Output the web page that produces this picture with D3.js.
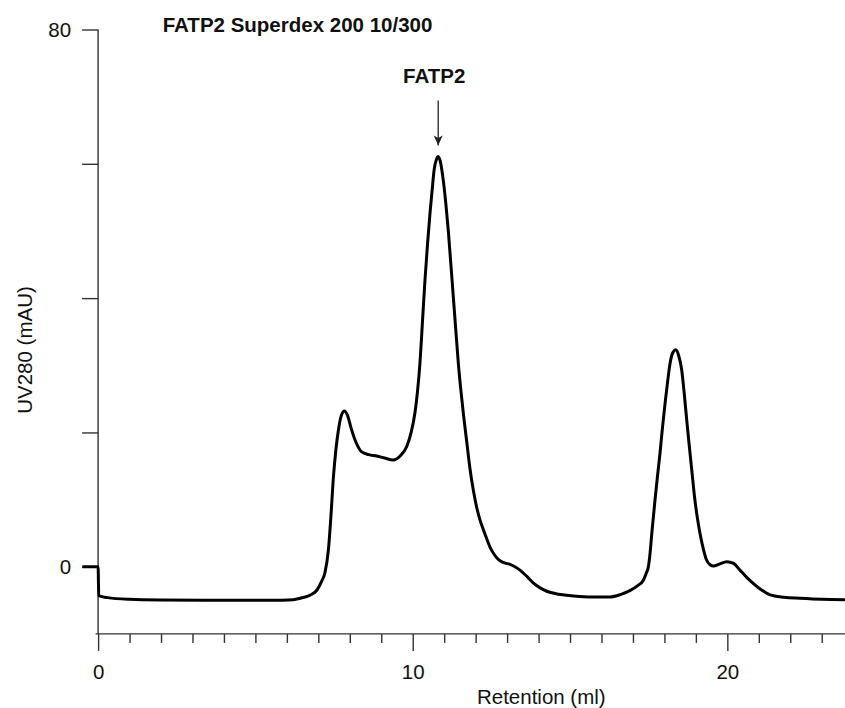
<!DOCTYPE html>
<html>
<head>
<meta charset="utf-8">
<script src="https://cdn.jsdelivr.net/npm/d3@7"></script>
<style>
  html, body { margin: 0; padding: 0; background: #fff; }
  svg { display: block; font-family: "Liberation Sans", Arial, sans-serif; }
</style>
</head>
<body>
<svg id="chart" width="845" height="708"></svg>
<script>
// ---- data ----
const retention = [
  -0.5, 0, 0.02, 0.3, 1, 2, 4, 5.5, 6.2, 6.5, 6.75, 6.95, 7.1, 7.21, 7.32, 7.4, 7.48, 7.56, 7.64, 7.73,
  7.83, 7.93, 8.05, 8.2, 8.38, 8.6, 8.86, 9.1, 9.38, 9.6, 9.81, 9.95, 10.07, 10.15, 10.23, 10.31, 10.39,
  10.47, 10.55, 10.62, 10.68, 10.75, 10.81, 10.88, 10.97, 11.05, 11.13, 11.21, 11.29, 11.37, 11.45, 11.53,
  11.61, 11.72, 11.82, 11.93, 12.03, 12.13, 12.24, 12.35, 12.46, 12.58, 12.72, 12.9, 13.09, 13.25, 13.41,
  13.62, 13.83, 14.05, 14.26, 14.58, 14.9, 15.3, 15.85, 16.27, 16.6, 16.9, 17.15, 17.33, 17.42, 17.49,
  17.55, 17.6, 17.7, 17.78, 17.86, 17.94, 18.02, 18.1, 18.18, 18.27, 18.36, 18.45, 18.55, 18.63, 18.71,
  18.79, 18.87, 18.97, 19.05, 19.13, 19.24, 19.34, 19.45, 19.56, 19.75, 19.98, 20.2, 20.4, 20.6, 20.83,
  21.1, 21.36, 21.8, 22.31, 23.0, 23.74
];
const uv280 = [
  0, 0, -4.3, -4.6, -4.85, -4.95, -5.0, -5.0, -4.9, -4.6, -4.2, -3.5, -2.2, -0.9, 2.5, 7.5, 13.4, 17.5, 20.4, 22.5,
  23.2, 22.5, 20.5, 18.5, 17.1, 16.7, 16.5, 16.2, 15.9, 16.5, 17.9, 20.0, 22.9, 26, 30.3, 36.5, 42.7,
  48, 52.7, 56.2, 59.1, 60.6, 61.1, 60.3, 57.6, 54.2, 50.1, 45.2, 40.2, 35.2, 30.3, 26.3,
  22.8, 18.5, 14.6, 11.3, 8.9, 7.1, 5.6, 4.2, 2.9, 1.9, 1.1, 0.6, 0.35, 0.0, -0.5,
  -1.4, -2.4, -3.15, -3.65, -4.05, -4.25, -4.42, -4.5, -4.5, -4.15, -3.55, -2.8, -2.0, -1.0, 0,
  2.3, 5, 9.9, 13.5, 16.9, 20.8, 24.3, 27.5, 30.3, 31.9, 32.3, 31.5, 29.3, 25.8, 21.8,
  18.0, 14.4, 9.9, 7.2, 5.0, 2.6, 1.0, 0.3, 0.1, 0.4, 0.75, 0.5, -0.5, -1.5, -2.5,
  -3.5, -4.2, -4.55, -4.7, -4.85, -4.9
];
const xDomain = [0, 23.74];
const yDomain = [-10, 80];
const xMajorTicks = [0, 10, 20];
const xMinorTicks = d3.range(1, 24).filter(v => v % 10 !== 0);
const yTicks = [0, 20, 40, 60, 80];
const yTickLabels = { 0: "0", 80: "80" };
const titleText = "FATP2 Superdex 200 10/300";
const xLabel = "Retention (ml)";
const yLabel = "UV280 (mAU)";
const peakLabel = "FATP2";
const peakRetention = 10.81;
const peakValue = 61.1;

// ---- drawing ----
const svg = d3.select("#chart");
const x = d3.scaleLinear().domain(xDomain).range([98.1, 845]);
const y = d3.scaleLinear().domain(yDomain).range([633.9, 29.5]);
const axisColor = "#333";
const fontSize = "20.5px";

// y axis
const gy = svg.append("g").attr("transform", `translate(${x(0)},0)`);
gy.call(d3.axisLeft(y).tickValues(yTicks).tickSize(16).tickPadding(11)
  .tickFormat(d => yTickLabels[d] || ""));
gy.select(".domain").attr("d", `M0,${y(80)}V${y(-10)}`).attr("stroke", axisColor).attr("stroke-width", 1.4);
gy.selectAll(".tick line").attr("stroke", axisColor).attr("stroke-width", 1.4);
gy.selectAll(".tick text").attr("font-size", fontSize).attr("fill", "#111")
  .attr("font-family", "Liberation Sans, Arial, sans-serif");

// x axis (major)
const gx = svg.append("g").attr("transform", `translate(0,${y(-10)})`);
gx.call(d3.axisBottom(x).tickValues(xMajorTicks).tickSize(17).tickPadding(14).tickFormat(d3.format("d")));
gx.select(".domain").attr("d", `M${x(0) - 2.5},0H845`).attr("stroke", axisColor).attr("stroke-width", 1.4);
gx.selectAll(".tick line").attr("stroke", axisColor).attr("stroke-width", 1.4);
gx.selectAll(".tick text").attr("font-size", fontSize).attr("fill", "#111")
  .attr("font-family", "Liberation Sans, Arial, sans-serif");
// x axis (minor)
const gxm = svg.append("g").attr("transform", `translate(0,${y(-10)})`);
gxm.call(d3.axisBottom(x).tickValues(xMinorTicks).tickSize(9).tickFormat(""));
gxm.select(".domain").remove();
gxm.selectAll(".tick line").attr("stroke", axisColor).attr("stroke-width", 1.4);

// trace
const pts = retention.map((r, i) => [r, uv280[i]]);
const line = d3.line().x(d => x(d[0])).y(d => y(d[1])).curve(d3.curveMonotoneX);
svg.append("path").datum(pts).attr("d", line)
  .attr("fill", "none").attr("stroke", "#000").attr("stroke-width", 3)
  .attr("stroke-linejoin", "round").attr("stroke-linecap", "butt");

// title
svg.append("text").attr("x", 162.7).attr("y", 31.7)
  .attr("font-size", fontSize).attr("font-weight", "bold").attr("fill", "#111")
  .text(titleText);

// axis titles
svg.append("text").attr("x", 541.3).attr("y", 704.3).attr("text-anchor", "middle")
  .attr("font-size", fontSize).attr("fill", "#111").text(xLabel);
svg.append("text").attr("transform", `translate(31.5,350) rotate(-90)`).attr("text-anchor", "middle")
  .attr("font-size", fontSize).attr("fill", "#111").text(yLabel);

// peak annotation
const ax = x(peakRetention);
const tipY = y(peakValue) - 11;
svg.append("defs").append("marker").attr("id", "arrowhead")
  .attr("viewBox", "0 0 10 10").attr("refX", 10).attr("refY", 5)
  .attr("markerWidth", 10).attr("markerHeight", 10).attr("markerUnits", "userSpaceOnUse")
  .attr("orient", "auto")
  .append("path").attr("d", "M0,0.5 L10,5 L0,9.5 L2.5,5 Z").attr("fill", "#222");
svg.append("line").attr("x1", ax).attr("x2", ax).attr("y1", tipY - 45).attr("y2", tipY)
  .attr("stroke", "#333").attr("stroke-width", 1.4).attr("marker-end", "url(#arrowhead)");
svg.append("text").attr("x", ax - 4).attr("y", 83.3).attr("text-anchor", "middle")
  .attr("font-size", fontSize).attr("font-weight", "bold").attr("fill", "#111").text(peakLabel);
</script>
</body>
</html>
